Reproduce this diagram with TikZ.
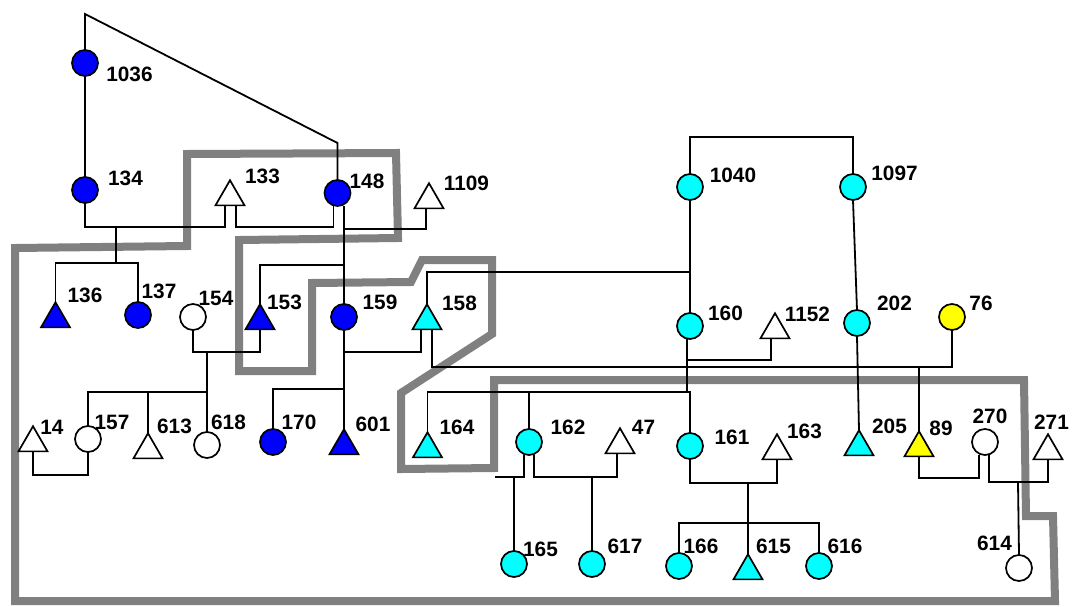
\documentclass[tikz,border=0pt]{standalone}
\usepackage{fontspec}
\setmainfont{Liberation Sans}
\usetikzlibrary{shapes.geometric}
\definecolor{pblue}{RGB}{0,0,255}
\definecolor{pcyan}{RGB}{0,255,255}
\definecolor{pyellow}{RGB}{255,255,0}
\definecolor{pgray}{RGB}{128,128,128}
\begin{document}
\begin{tikzpicture}[x=1pt,y=-1pt,
  ln/.style={line width=1.8pt, draw=black},
  fem/.style={circle, draw=black, line width=1.7pt, minimum size=26pt, inner sep=0pt, outer sep=0pt},
  mal/.style={regular polygon, regular polygon sides=3, draw=black, line width=1.7pt, minimum size=33.5pt, inner sep=0pt, outer sep=0pt},
  lab/.style={font=\bfseries\fontsize{20.8}{21}\selectfont, inner sep=0pt},
  bl/.style={fill=pblue}, cy/.style={fill=pcyan}, ye/.style={fill=pyellow}, wh/.style={fill=white},
  bound/.style={line width=8pt, draw=pgray, line join=miter}
]
\useasboundingbox (0,0) rectangle (1072,606);

% boundary
\draw[bound] (187,154) -- (396,153) -- (398,238) -- (239,240) -- (239,371) -- (312,371) -- (312,283) -- (411,282) -- (422,260) -- (492,260) -- (492,334) -- (401,393) -- (401,469) -- (494,468) -- (494,380) -- (1024,380) -- (1026,516) -- (1053,516) -- (1055,601) -- (15,601) -- (15,248) -- (187,246) -- cycle;

% circles
\node[fem,bl] (n1036) at (85,63) {};
\node[fem,bl] (n134) at (85,190) {};
\node[fem,bl] (n148) at (337.5,193) {};
\node[fem,bl] (n137) at (138,315) {};
\node[fem,wh] (n154) at (193,317) {};
\node[fem,bl] (n159) at (344,317) {};
\node[fem,wh] (n157) at (88,439) {};
\node[fem,wh] (n618) at (207,445) {};
\node[fem,bl] (n170) at (273,442) {};
\node[fem,cy] (n1040) at (690,187) {};
\node[fem,cy] (n1097) at (853,187) {};
\node[fem,cy] (n160) at (690,326) {};
\node[fem,cy] (n202) at (857,323) {};
\node[fem,ye] (n76) at (952,317) {};
\node[fem,cy] (n162) at (529,442) {};
\node[fem,cy] (n161) at (690,446) {};
\node[fem,cy] (n165) at (514,564) {};
\node[fem,cy] (n617) at (592,564) {};
\node[fem,cy] (n166) at (679,566) {};
\node[fem,cy] (n616) at (819,566) {};
\node[fem,wh] (n270) at (985,442) {};
\node[fem,wh] (n614) at (1019,568) {};

% triangles
\node[mal,wh] (n133) at (230,197) {};
\node[mal,bl] (n136) at (55.5,319) {};
\node[mal,bl] (n153) at (260,321) {};
\node[mal,wh] (n1109) at (429,200) {};
\node[mal,cy] (n158) at (427,321) {};
\node[mal,wh] (n14) at (33,443) {};
\node[mal,wh] (n613) at (148,450) {};
\node[mal,bl] (n601) at (344,446) {};
\node[mal,cy] (n164) at (427.5,449) {};
\node[mal,wh] (n1152) at (775,330) {};
\node[mal,wh] (n47) at (620,445) {};
\node[mal,wh] (n163) at (777,451) {};
\node[mal,cy] (n205) at (859,447) {};
\node[mal,ye] (n89) at (919,448) {};
\node[mal,cy] (n615) at (748,571) {};
\node[mal,wh] (n271) at (1048,451) {};

% labels
\node[lab] (l1036) at (129.5,74.5) {1036};
\node[lab] (l134) at (125.5,178) {134};
\node[lab] (l133) at (262.5,176) {133};
\node[lab] (l148) at (367,181) {148};
\node[lab] (l1109) at (466.5,183.5) {1109};
\node[lab] (l153) at (284.5,302.5) {153};
\node[lab] (l159) at (380,302.5) {159};
\node[lab] (l158) at (459.5,303) {158};
\node[lab] (l170) at (299,422) {170};
\node[lab] (l601) at (373,424.5) {601};
\node[lab] (l164) at (457,427.5) {164};
\node[lab] (l136) at (85,295) {136};
\node[lab] (l137) at (159,291) {137};
\node[lab] (l154) at (216,298.5) {154};
\node[lab] (l157) at (112,422.5) {157};
\node[lab] (l14) at (52,427.5) {14};
\node[lab] (l613) at (174.5,426) {613};
\node[lab] (l618) at (228.5,422.5) {618};
\node[lab] (l1040) at (733,175) {1040};
\node[lab] (l160) at (725.5,313) {160};
\node[lab] (l1097) at (894.5,173) {1097};
\node[lab] (l202) at (894.5,303.5) {202};
\node[lab] (l76) at (981,303.5) {76};
\node[lab] (l1152) at (807.5,314.5) {1152};
\node[lab] (l162) at (568,427) {162};
\node[lab] (l47) at (643.5,427) {47};
\node[lab] (l161) at (732,437.5) {161};
\node[lab] (l165) at (540.5,549.5) {165};
\node[lab] (l617) at (625,546) {617};
\node[lab] (l166) at (701,546) {166};
\node[lab] (l615) at (773.5,546) {615};
\node[lab] (l616) at (845,546) {616};
\node[lab] (l163) at (804.5,431) {163};
\node[lab] (l205) at (889.5,426) {205};
\node[lab] (l89) at (941,428) {89};
\node[lab] (l270) at (990,416.5) {270};
\node[lab] (l271) at (1051.5,422.5) {271};
\node[lab] (l614) at (994.5,543.5) {614};

% junction coordinates
\coordinate (t1) at (85,14);
\coordinate (t2) at (337.5,143);
\coordinate (m134) at (116,227);
\coordinate (s134) at (116,263);
\coordinate (m148a) at (290,227);
\coordinate (m148) at (344,229);
\coordinate (s148) at (344,265);
\coordinate (m154) at (207,352);
\coordinate (s154) at (207,392);
\coordinate (m157) at (60,475);
\coordinate (m159) at (380,352);
\coordinate (s159) at (344,389);
\coordinate (m158) at (919,367);
\coordinate (c158) at (690,272);
\coordinate (m160) at (687,360);
\coordinate (s160) at (687,392);
\coordinate (c162L) at (495,477);
\coordinate (m162) at (592,477);
\coordinate (m161) at (748,483);
\coordinate (s161) at (748,523);
\coordinate (c1040) at (770,137);
\coordinate (m89) at (950,478);
\coordinate (m270) at (1018,482);

% connectors
\draw[ln] (n1036.north) -- (t1) -- (t2) -- (n148.north);
\draw[ln] (n1036) -- (n134);
\draw[ln] (n134.south) |- (m134) -| ([xshift=-5pt]n133.south);
\draw[ln] (m134) -- (s134);
\draw[ln] (n136.corner 1) |- (s134) -| (n137.north);
\draw[ln] ([xshift=-4pt]n148.south) |- (m148a) -| ([xshift=6pt]n133.south);
\draw[ln] ([xshift=6.5pt]n148.south) -- (n159.north);
\draw[ln] (m148) -| ([xshift=-3pt]n1109.south);
\draw[ln] (s148) -| (n153.corner 1);
\draw[ln] (n154.south) |- (m154) -| (n153.south);
\draw[ln] (m154) -- (s154);
\draw[ln] (n157.north) |- (s154) -- (n618.north);
\draw[ln] (n613.corner 1) |- (s154);
\draw[ln] (n157.south) |- (m157) -| (n14.south);
\draw[ln] (n159.south) -- (n601.corner 1);
\draw[ln] (n159.south) |- (m159) -| ([xshift=-6pt]n158.south);
\draw[ln] (n170.north) |- (s159);
\draw[ln] ([xshift=5pt]n158.south) |- (m158) -| (n76.south);
\draw[ln] (m158) -- (n89.corner 1);
\draw[ln] (n158.corner 1) |- (c158);
\draw[ln] (n1040.north) |- (c1040) -| (n1097.north);
\draw[ln] (n1040) -- (n160);
\draw[ln] (n1097.south) -- (n202.north);
\draw[ln] (n202.south) -- (n205.corner 1);
\draw[ln] ([xshift=-3pt]n160.south) -- (s160);
\draw[ln] (m160) -| ([xshift=-4pt]n1152.south);
\draw[ln] (n164.corner 1) |- (s160) -| (n161.north);
\draw[ln] (n162.north) |- (s160);
\draw[ln] ([xshift=-5pt]n162.south) |- (c162L);
\draw[ln] (n165.north) |- (c162L);
\draw[ln] ([xshift=5pt]n162.south) |- (m162) -| ([xshift=-3pt]n47.south);
\draw[ln] (m162) -- (n617.north);
\draw[ln] (n161.south) |- (m161) -| (n163.south);
\draw[ln] (m161) -- (n615.corner 1);
\draw[ln] (n166.north) |- (s161) -| (n616.north);
\draw[ln] (n89.south) |- (m89) -| ([xshift=-6pt]n270.south);
\draw[ln] ([xshift=4pt]n270.south) |- (m270) -| (n271.south);
\draw[ln] (m270) -- (n614.north);
\end{tikzpicture}
\end{document}
